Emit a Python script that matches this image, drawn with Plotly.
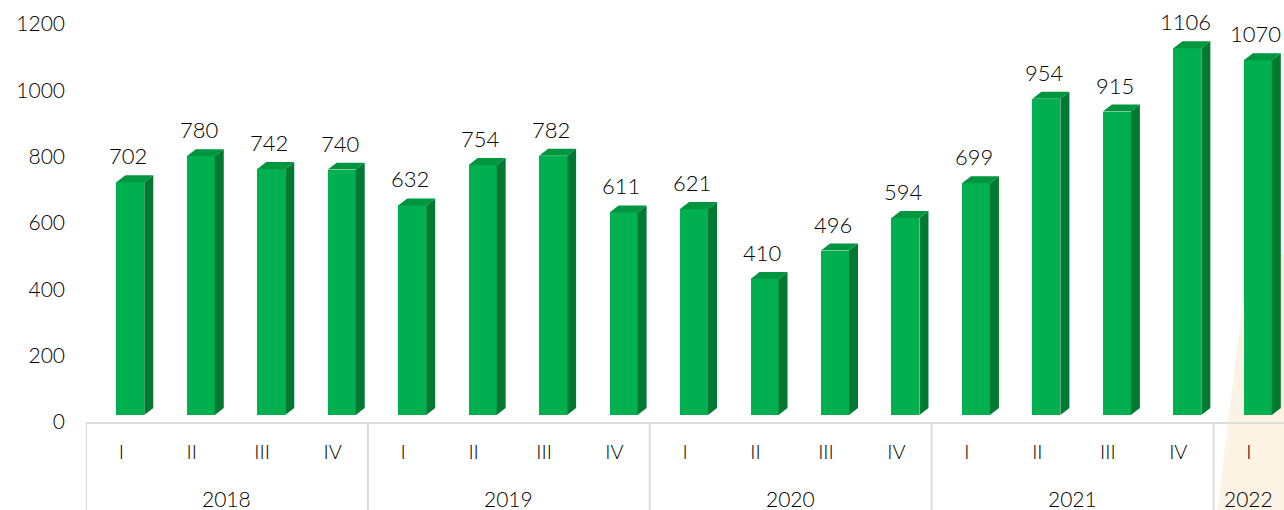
import plotly.graph_objects as go

quarters = ["I", "II", "III", "IV"] * 4 + ["I"]
years = ["2018", "2019", "2020", "2021", "2022"]
year_sizes = [4, 4, 4, 4, 1]
values = [702, 780, 742, 740, 632, 754, 782, 611, 621, 410, 496, 594, 699, 954, 915, 1106, 1070]
y_ticks = [0, 200, 400, 600, 800, 1000, 1200]

FRONT = "#00b050"
TOP = "#00953f"
SIDE = "#007a32"
FONT = "Century Gothic, Lato, sans-serif"
W = 300
TXT = "#000000"

# 3D geometry (category units / value units)
x_off = -0.07       # front face left relative to category centre
bar_w = 0.397       # front face width
dx = 0.128          # depth, horizontal
dz = 21             # depth, vertical (value units)
base = 21           # floor offset of front face

xs = list(range(len(values)))

fig = go.Figure()

# front faces
fig.add_trace(go.Bar(
    x=xs, y=values, base=[base] * len(values),
    offset=x_off, width=bar_w,
    marker=dict(color=FRONT, line=dict(width=0)),
    hoverinfo="skip", showlegend=False,
))

# side and top faces
sx, sy = [], []
tx, ty = [], []
for c, v in zip(xs, values):
    l = c + x_off
    r = l + bar_w
    sx += [r, r + dx, r + dx, r, r, None]
    sy += [base, base + dz, base + v + dz, base + v, base, None]
    tx += [l, r, r + dx, l + dx, l, None]
    ty += [base + v, base + v, base + v + dz, base + v + dz, base + v, None]

fig.add_trace(go.Scatter(x=sx, y=sy, mode="lines", fill="toself",
                         fillcolor=SIDE, line=dict(width=0, color=SIDE),
                         hoverinfo="skip", showlegend=False))
fig.add_trace(go.Scatter(x=tx, y=ty, mode="lines", fill="toself",
                         fillcolor=TOP, line=dict(width=0, color=TOP),
                         hoverinfo="skip", showlegend=False))

# value labels
for c, v in zip(xs, values):
    fig.add_annotation(x=c + x_off + bar_w / 2 - 0.03, y=base + v + dz,
                       text=str(v), showarrow=False, yanchor="bottom",
                       yshift=4, font=dict(family=FONT, size=22, color=TXT, weight=W))

# year labels and dividers
start = 0
bounds = [-0.5]
for yr, n in zip(years, year_sizes):
    centre = start + (n - 1) / 2
    fig.add_annotation(x=centre, y=0, xref="x", yref="paper", text=yr,
                       showarrow=False, yanchor="middle", yshift=-76,
                       font=dict(family=FONT, size=21, color=TXT, weight=W))
    start += n
    bounds.append(start - 0.5)

shapes = []
# highlight for latest year
shapes.append(dict(type="path", xref="x", yref="paper", layer="below",
                   path="M 16.0,0.42 L 15.5,-0.3 L 16.5,-0.3 L 16.5,0.42 Z",
                   fillcolor="#fdf3e4", line=dict(width=0)))
for b in bounds[:-1]:
    shapes.append(dict(type="line", xref="x", yref="paper", x0=b, x1=b,
                       y0=0, y1=-0.3, line=dict(color="#dcdcdc", width=2)))
fig.update_layout(shapes=shapes)

fig.update_layout(
    width=1284, height=510,
    margin=dict(l=86, r=0, t=24, b=88, autoexpand=False),
    paper_bgcolor="white", plot_bgcolor="rgba(0,0,0,0)",
    bargap=0,
    font=dict(family=FONT, size=20, color=TXT, weight=W),
    xaxis=dict(range=[-0.5, 16.5], tickmode="array", tickvals=xs, ticktext=quarters,
               showgrid=False, zeroline=False, showline=True, linecolor="#dcdcdc",
               linewidth=2, ticks="", ticklabelstandoff=11, automargin=False,
               tickfont=dict(family=FONT, size=20, color=TXT, weight=W), fixedrange=True),
    yaxis=dict(range=[0, 1200], tickmode="array", tickvals=y_ticks,
               showgrid=False, zeroline=False, showline=False, ticks="",
               ticklabelstandoff=20, automargin=False,
               tickfont=dict(family=FONT, size=21, color=TXT, weight=W), fixedrange=True),
)

fig.write_html("out.html", config={"displayModeBar": False},
               post_script="document.body.style.margin='0';document.body.style.overflow='hidden';")
